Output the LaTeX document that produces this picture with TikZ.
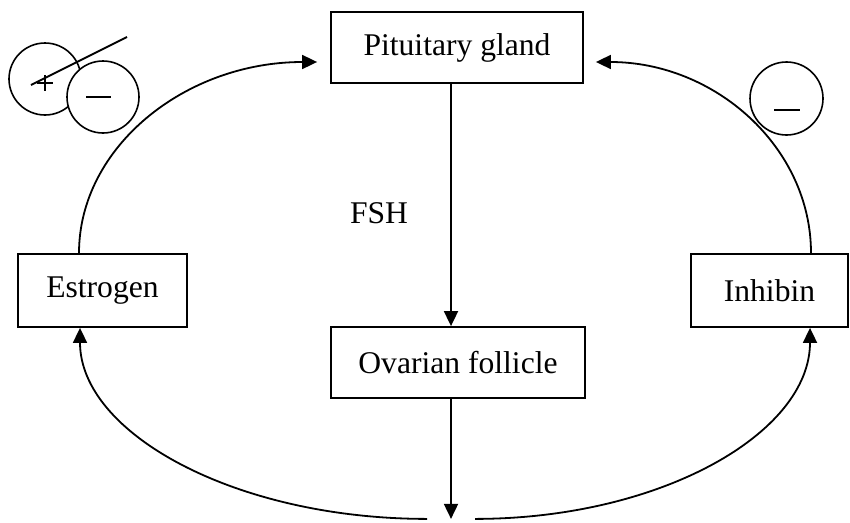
\documentclass[tikz,border=0pt]{standalone}
\usepackage{fontspec}
\setmainfont{Liberation Serif}
\usetikzlibrary{arrows.meta,calc}
\begin{document}
\begin{tikzpicture}[x=1pt,y=-1pt,
  box/.style={draw,line width=1.8pt,inner sep=0pt,font=\fontsize{31.6}{36}\selectfont},
  arr/.style={line width=1.8pt,-{Triangle[length=15pt,width=14pt]}},
  ln/.style={line width=1.8pt},
  lbl/.style={font=\fontsize{31.6}{36}\selectfont,inner sep=0pt}]
\useasboundingbox (0,0) rectangle (850,522);
\node[box,minimum width=252pt,minimum height=71pt] (pit) at (457,47.5) {Pituitary gland};
\node[box,minimum width=169pt,minimum height=73pt] (est) at (102.5,290.5) {Estrogen};
\node[box,minimum width=157pt,minimum height=73pt] (inh) at (769.5,290.5) {Inhibin};
\node[box,minimum width=254pt,minimum height=71pt] (ov) at (458,362.5) {Ovarian follicle};
\node[lbl] (fsh) at (379,213) {FSH};
% connectors
\coordinate (pitB) at ($(pit.south)+(-6,0)$);
\coordinate (ovT) at ($(ov.north)+(-7,0)$);
\coordinate (ovB) at ($(ov.south)+(-7,0)$);
\coordinate (bot) at ($(ovB)+(0,120)$);
\draw[arr] (pitB) -- (ovT);
\draw[arr] (ovB) -- (bot);
\coordinate (estT) at ($(est.north)+(-23.5,0)$);
\coordinate (estB) at ($(est.south)+(-22.5,0)$);
\coordinate (inhT) at ($(inh.north)+(41.5,0)$);
\coordinate (inhB) at ($(inh.south)+(40.5,0)$);
\coordinate (pitL) at ($(pit.west)+(-13,14.5)$);
\coordinate (pitR) at ($(pit.east)+(12,14.5)$);
\coordinate (bl) at ($(bot)+(-24,0)$);
\coordinate (br) at ($(bot)+(24,0)$);
\draw[arr] (estT) .. controls +(0,-106) and +(-132,0) .. (pitL);
\draw[arr] (inhT) .. controls +(0,-106) and +(119,0) .. (pitR);
\draw[arr] (bl) .. controls +(-191.5,0) and +(0,105.5) .. (estB);
\draw[arr] (br) .. controls +(185,0) and +(0,105.5) .. (inhB);
% signs
\node[draw,circle,line width=1.6pt,minimum size=72pt,inner sep=0pt] (cp) at (45,79) {};
\node[draw,circle,line width=1.6pt,minimum size=72pt,inner sep=0pt,fill=white] (cm) at (103,97) {};
\node[draw,circle,line width=1.6pt,minimum size=73pt,inner sep=0pt] (cr) at (786.5,98.5) {};
\draw[line width=1.2pt] ($(cp.center)+(-8,4)$) -- ($(cp.center)+(8,4)$);
\draw[line width=1.2pt] ($(cp.center)+(0,-4)$) -- ($(cp.center)+(0,12)$);
\draw[ln] ($(cp.center)+(-14,6)$) -- ($(cp.center)+(82,-42)$);
\draw[ln] ($(cm.center)+(-17,0)$) -- ($(cm.center)+(8,0)$);
\draw[ln] ($(cr.center)+(-12.5,11.5)$) -- ($(cr.center)+(13.5,11.5)$);
\end{tikzpicture}
\end{document}
